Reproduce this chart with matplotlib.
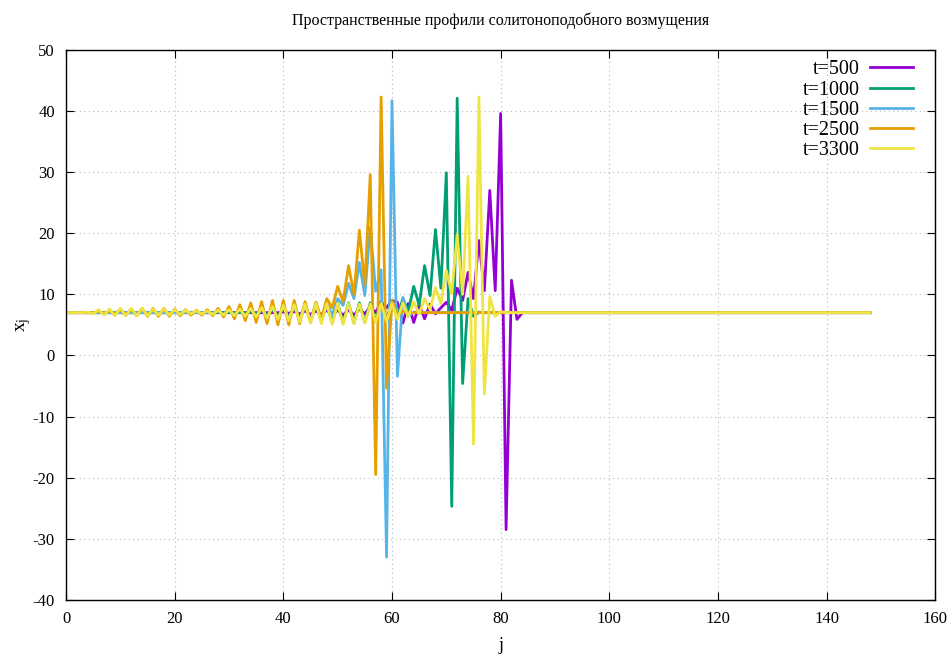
import numpy as np
import matplotlib
matplotlib.use("Agg")
import matplotlib.pyplot as plt

plt.rcParams['font.family'] = ['Liberation Serif', 'DejaVu Serif']
plt.rcParams['axes.unicode_minus'] = False

# site index and the resting level of the chain
j = np.arange(149)
base = 7.0

# each profile: first site of the disturbed segment and its values
start_500 = 40
prof_500 = [7.1, 6.9, 7.2, 6.8, 7.3, 6.7, 7.3, 6.7, 7.4, 6.6,
            7.4, 6.6, 7.5, 6.6, 7.6, 6.8, 8.0, 7.0, 8.8, 7.8,
            9.0, 8.7, 5.3, 8.5, 5.4, 8.3, 6.0, 8.4, 6.8, 7.8,
            8.7, 7.4, 11.0, 9.0, 13.6, 9.3, 18.8, 10.6, 27.0, 10.6,
            39.6, -28.5, 12.3, 5.9, 7.0]

start_1000 = 34
prof_1000 = [7.1, 6.9, 7.3, 6.7, 7.5, 6.5, 7.7, 6.3, 7.9, 6.0,
             8.1, 5.8, 8.3, 5.6, 8.4, 5.4, 8.5, 5.3, 8.6, 5.3,
             8.6, 5.4, 8.6, 5.6, 8.7, 5.9, 8.8, 6.4, 9.3, 7.2,
             11.3, 8.2, 14.7, 9.8, 20.6, 11.0, 29.9, -24.7, 42.1, -4.6,
             9.3, 6.4, 7.1]

start_1500 = 26
prof_1500 = [7.1, 6.9, 7.3, 6.7, 7.4, 6.6, 7.6, 6.4, 7.8, 6.2,
             8.0, 6.0, 8.2, 5.8, 8.3, 5.7, 8.4, 5.6, 8.5, 5.6,
             8.6, 5.8, 8.8, 6.5, 9.3, 8.2, 11.8, 9.3, 15.2, 9.8,
             21.0, 10.5, 14.0, -33.0, 41.7, -3.4, 9.5, 6.4, 7.1]

start_2500 = 6
prof_2500 = [7.2, 6.9, 7.3, 6.8, 7.5, 6.6, 7.6, 6.5, 7.7, 6.4,
             7.7, 6.4, 7.7, 6.4, 7.6, 6.5, 7.5, 6.6, 7.4, 6.6,
             7.5, 6.5, 7.7, 6.3, 8.0, 6.0, 8.3, 5.7, 8.6, 5.4,
             8.8, 5.2, 9.0, 5.0, 9.0, 5.0, 9.0, 5.2, 8.8, 5.4,
             8.7, 6.0, 9.3, 7.8, 11.3, 8.8, 14.7, 10.0, 20.5, 11.5,
             29.6, -19.5, 42.3, -5.4, 9.0, 6.5, 7.2]

start_3300 = 4
prof_3300 = [7.1, 6.8, 7.5, 6.6, 7.6, 6.5, 7.7, 6.5, 7.7, 6.5,
             7.7, 6.5, 7.6, 6.6, 7.6, 6.6, 7.5, 6.7, 7.4, 6.8,
             7.3, 6.8, 7.3, 6.7, 7.4, 6.6, 7.5, 6.5, 7.6, 6.4,
             7.7, 6.3, 7.8, 6.1, 8.0, 5.9, 8.2, 5.7, 8.3, 5.5,
             8.4, 5.3, 8.5, 5.2, 8.5, 5.1, 8.5, 5.1, 8.5, 5.2,
             8.4, 5.3, 8.4, 5.4, 8.5, 5.6, 8.5, 5.9, 8.6, 6.3,
             8.8, 6.8, 9.3, 7.5, 11.1, 8.5, 13.9, 10.1, 19.8, 10.0,
             29.3, -14.5, 42.3, -6.3, 9.6, 6.4, 7.2]

labels = ["t=500", "t=1000", "t=1500", "t=2500", "t=3300"]
starts = [start_500, start_1000, start_1500, start_2500, start_3300]
profiles = [prof_500, prof_1000, prof_1500, prof_2500, prof_3300]
colors = ["#9400d3", "#009e73", "#56b4e9", "#e69f00", "#f0e442"]

fig = plt.figure(figsize=(9.5, 6.57), dpi=100)
ax = fig.add_axes([0.0695, 0.087, 0.915, 0.837])

for lab, s, p, c in zip(labels, starts, profiles, colors):
    y = np.full(len(j), base)
    y[s:s + len(p)] = p
    ax.plot(j, y, color=c, lw=2.0, label=lab)

ax.set_xlim(0, 160)
ax.set_ylim(-40, 50)
ax.set_xticks(np.arange(0, 161, 20))
ax.set_yticks(np.arange(-40, 51, 10))
ax.grid(True, color="#b8b8b8", ls=(0, (1, 3)), lw=0.8)
ax.tick_params(direction="in", top=True, right=True, length=6, labelsize=12, pad=8)
for sp in ax.spines.values():
    sp.set_linewidth(1.0)

ax.set_title("Пространственные профили солитоноподобного возмущения", fontsize=11.5, pad=18)
ax.set_xlabel("j", fontsize=13, labelpad=7)
ax.set_ylabel(r"$\mathregular{x_j}$", fontsize=14, labelpad=0)

ax.legend(loc="upper right", bbox_to_anchor=(0.995, 1.014), frameon=False,
          markerfirst=False, handlelength=2.15, handletextpad=0.5,
          labelspacing=0.05, fontsize=14.5)

fig.savefig("out.png", dpi=100)
